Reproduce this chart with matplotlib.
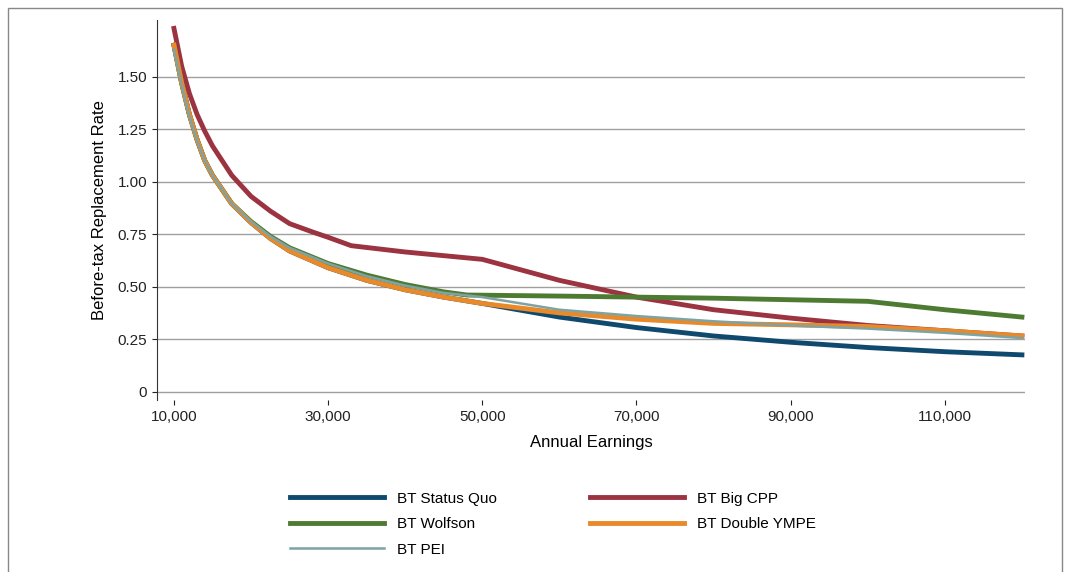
import numpy as np
import matplotlib.pyplot as plt
from matplotlib.patches import Rectangle

plt.rcParams['font.family'] = ['Liberation Sans', 'DejaVu Sans']

earn = [10000, 11000, 12000, 13000, 14000, 15000, 17500, 20000, 22500, 25000, 30000, 35000, 40000, 45000, 50000,
        60000, 70000, 80000, 90000, 100000, 110000, 120000]
status_quo = [1.65, 1.47, 1.32, 1.20, 1.10, 1.03, 0.895, 0.805, 0.73, 0.67, 0.59, 0.53, 0.485, 0.45, 0.42,
              0.355, 0.305, 0.265, 0.235, 0.21, 0.19, 0.175]
double_ympe = [1.65, 1.47, 1.32, 1.20, 1.10, 1.03, 0.895, 0.805, 0.73, 0.67, 0.59, 0.53, 0.485, 0.45, 0.42,
               0.375, 0.345, 0.325, 0.318, 0.31, 0.29, 0.265]
pei = [1.63, 1.46, 1.31, 1.195, 1.10, 1.03, 0.895, 0.81, 0.74, 0.685, 0.61, 0.55, 0.505, 0.47, 0.45,
       0.39, 0.36, 0.335, 0.315, 0.30, 0.28, 0.255]

earn_cpp = [10000, 11000, 12000, 13000, 14000, 15000, 17500, 20000, 22500, 25000, 28000, 30000, 33000, 40000, 50000,
            60000, 70000, 80000, 90000, 100000, 110000, 120000]
big_cpp = [1.73, 1.55, 1.42, 1.32, 1.24, 1.17, 1.03, 0.93, 0.86, 0.80, 0.76, 0.735, 0.695, 0.665, 0.63,
           0.53, 0.45, 0.39, 0.35, 0.315, 0.29, 0.265]

earn_wolf = [10000, 11000, 12000, 13000, 14000, 15000, 17500, 20000, 22500, 25000, 30000, 35000, 40000, 45000, 48000,
             60000, 80000, 100000, 110000, 120000]
wolfson = [1.65, 1.47, 1.32, 1.20, 1.10, 1.03, 0.895, 0.81, 0.74, 0.685, 0.61, 0.555, 0.51, 0.475, 0.46,
           0.455, 0.445, 0.43, 0.39, 0.355]

fig = plt.figure(figsize=(10.7, 5.72), dpi=100)
ax = fig.add_axes([157/1070, 1-400/572, (1025-157)/1070, (400-20)/572])

ax.plot(earn, status_quo, color='#0f4a6e', lw=3.5, label='BT Status Quo', zorder=3)
ax.plot(earn_cpp, big_cpp, color='#9b3340', lw=3.5, label='BT Big CPP', zorder=3)
ax.plot(earn_wolf, wolfson, color='#4e7b32', lw=3.5, label='BT Wolfson', zorder=3)
ax.plot(earn, double_ympe, color='#e8892a', lw=3.5, label='BT Double YMPE', zorder=4)
ax.plot(earn, pei, color='#7fa3a3', lw=1.8, label='BT PEI', zorder=5)

ax.set_xlim(7800, 120400)
ax.set_ylim(-0.04, 1.77)
ax.set_xticks([10000, 30000, 50000, 70000, 90000, 110000])
ax.set_xticklabels(['10,000', '30,000', '50,000', '70,000', '90,000', '110,000'])
ax.set_yticks([0, 0.25, 0.5, 0.75, 1.0, 1.25, 1.5])
ax.set_yticklabels(['0', '0.25', '0.50', '0.75', '1.00', '1.25', '1.50'])
for y in [0, 0.25, 0.5, 0.75, 1.0, 1.25, 1.5]:
    ax.axhline(y, color='#a0a0a0', lw=1, zorder=1)
for s in ['top', 'right', 'bottom']:
    ax.spines[s].set_visible(False)
ax.spines['left'].set_color('#333333')
ax.tick_params(labelsize=11, colors='#222222')
ax.set_xlabel('Annual Earnings', fontsize=12, labelpad=8)
ax.set_ylabel('Before-tax Replacement Rate', fontsize=12, labelpad=8)

handles, labels = ax.get_legend_handles_labels()
order = [0, 2, 4, 1, 3]
fig.legend([handles[i] for i in order], [labels[i] for i in order], ncol=2,
           loc='upper left', bbox_to_anchor=(276/1070, 1-478/572), frameon=False,
           handlelength=6.2, columnspacing=6.1, fontsize=11, labelspacing=0.75)

fig.patches.append(Rectangle((8/1070, -0.01), (1062-8)/1070, 1-8/572+0.01,
                             transform=fig.transFigure, fill=False, ec='#888888', lw=1))
fig.savefig('out.png', dpi=100)
